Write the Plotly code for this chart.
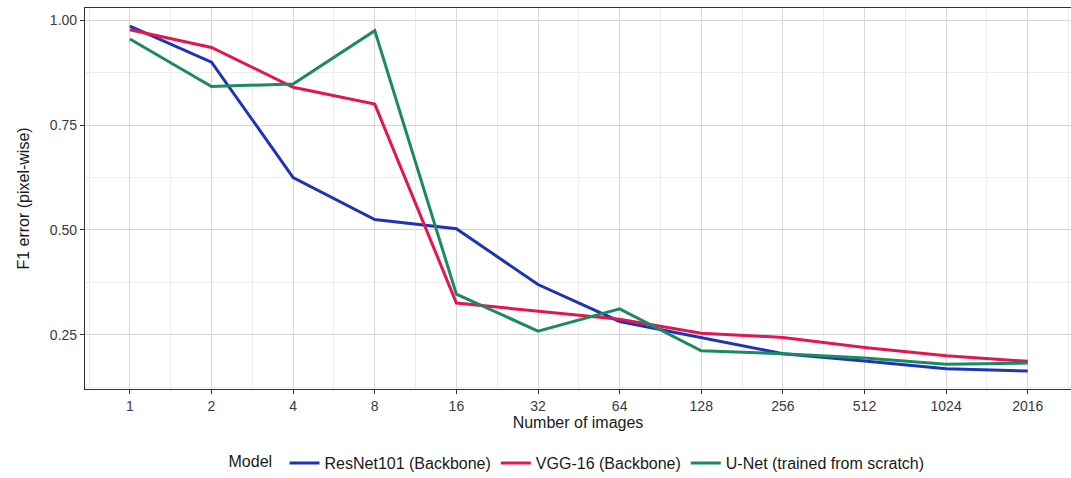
import plotly.graph_objects as go

# Training-set sizes (evenly spaced categories)
n_images = ["1", "2", "4", "8", "16", "32", "64", "128", "256", "512", "1024", "2016"]

# F1 error (pixel-wise) per model
resnet101 = [0.986, 0.900, 0.625, 0.525, 0.503, 0.370, 0.282, 0.243, 0.205, 0.188, 0.169, 0.164]
vgg16 = [0.977, 0.935, 0.840, 0.800, 0.326, 0.306, 0.287, 0.254, 0.244, 0.220, 0.200, 0.187]
unet = [0.955, 0.842, 0.848, 0.975, 0.347, 0.259, 0.312, 0.212, 0.205, 0.195, 0.180, 0.183]

series_names = ["ResNet101 (Backbone)", "VGG-16 (Backbone)", "U-Net (trained from scratch)"]
series_colors = ["#1f33b8", "#e3164d", "#1c8a60"]

x_pos = list(range(len(n_images)))

fig = go.Figure()
for name, vals, col in zip(series_names, [resnet101, vgg16, unet], series_colors):
    fig.add_trace(go.Scatter(
        x=x_pos, y=vals, mode="lines", name=name,
        line=dict(color=col, width=3),
    ))

FONT = "Liberation Sans, Arial, sans-serif"
axis_font = dict(family=FONT, size=14, color="#3a3a3a")
title_font = dict(family=FONT, size=16, color="#1a1a1a")

fig.update_layout(
    width=1071, height=478,
    margin=dict(l=85, r=0, t=8, b=89, autoexpand=False),
    paper_bgcolor="white", plot_bgcolor="white",
    font=dict(family=FONT, size=16, color="#1a1a1a"),
    showlegend=True,
    legend=dict(
        orientation="h", x=0.5, xanchor="center",
        yref="container", y=0.031, yanchor="middle",
        title=dict(text="Model ", side="left", font=dict(size=16)),
        font=dict(size=16), itemwidth=30, tracegroupgap=0,
    ),
)

fig.update_xaxes(
    range=[-0.55, 11.53],
    tickmode="array", tickvals=x_pos, ticktext=n_images,
    tickfont=axis_font,
    ticks="outside", ticklen=4, tickcolor="#333333", tickwidth=1,
    showline=True, linecolor="#333333", linewidth=1.2, mirror=True,
    showgrid=True, gridcolor="#d6d6d6", gridwidth=1,
    minor=dict(tickmode="linear", tick0=0.5, dtick=1, showgrid=True,
               gridcolor="#ececec", gridwidth=1, ticks=""),
    zeroline=False,
    title=dict(text="Number of images", font=title_font, standoff=2),
)

fig.update_yaxes(
    range=[0.121, 1.029],
    tickmode="array", tickvals=[0.25, 0.50, 0.75, 1.00],
    ticktext=["0.25", "0.50", "0.75", "1.00"],
    tickfont=axis_font,
    ticks="outside", ticklen=4, tickcolor="#333333", tickwidth=1,
    showline=True, linecolor="#333333", linewidth=1.2, mirror=False,
    showgrid=True, gridcolor="#d6d6d6", gridwidth=1,
    minor=dict(tickmode="linear", tick0=0.125, dtick=0.25, showgrid=True,
               gridcolor="#ececec", gridwidth=1, ticks=""),
    zeroline=False,
    title=dict(text="F1 error (pixel-wise)", font=title_font, standoff=16),
)

fig.write_html("out.html")
